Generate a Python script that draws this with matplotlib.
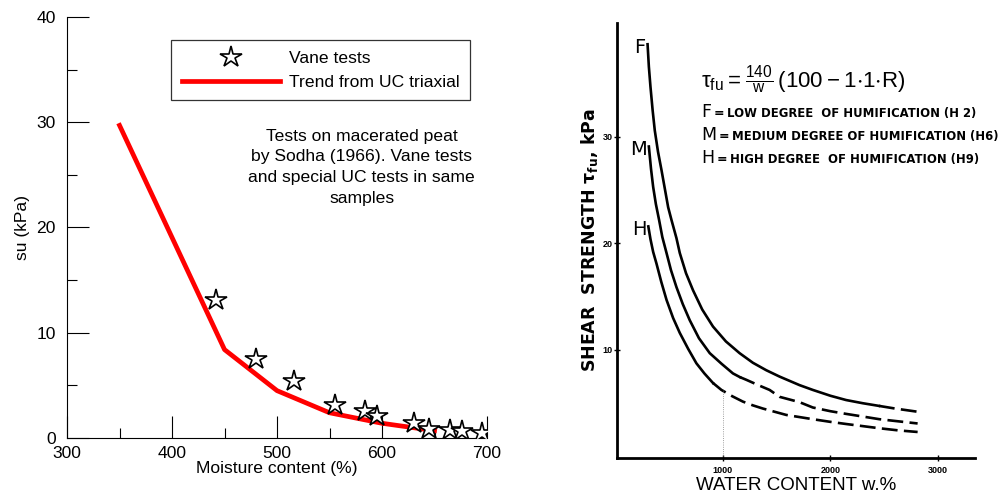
import matplotlib
matplotlib.use('Agg')
import matplotlib.pyplot as plt
from matplotlib.ticker import MultipleLocator

plt.rcParams['font.family'] = ['Liberation Sans', 'DejaVu Sans']

# left panel: Sodha (1966) macerated peat
trend_w = [350, 450, 500, 550, 600, 650]
trend_su = [29.7, 8.4, 4.5, 2.4, 1.4, 0.7]
vane_w = [442, 480, 516, 555, 584, 595, 630, 645, 665, 676, 695]
vane_su = [13.1, 7.5, 5.4, 3.1, 2.6, 2.1, 1.45, 0.9, 0.75, 0.65, 0.5]

# right panel: scanned curves F / M / H (solid part, dashed extension)
f_w = [303, 315, 330, 350, 370, 400, 432, 494, 525, 571, 602, 660, 725, 810, 910, 1030, 1157, 1280, 1404, 1528, 1713, 1836, 2000, 2145, 2300, 2450]
f_tau = [38.7, 36.6, 34.7, 32.5, 30.6, 28.6, 26.9, 23.4, 22.2, 20.5, 19.1, 17.2, 15.6, 13.8, 12.2, 10.8, 9.7, 8.8, 8.1, 7.5, 6.7, 6.25, 5.7, 5.3, 5.0, 4.75]
f_w_d = [2450, 2600, 2809]
f_tau_d = [4.75, 4.5, 4.2]
m_w = [315, 335, 355, 380, 410, 440, 479, 520, 571, 630, 694, 780, 880, 990, 1095, 1160]
m_tau = [29.1, 27.0, 25.3, 23.7, 22.2, 20.6, 19.1, 17.5, 15.9, 14.3, 12.8, 11.1, 9.7, 8.7, 7.8, 7.45]
m_w_d = [1160, 1219, 1330, 1435, 1528, 1713, 1836, 2000, 2145, 2300, 2454, 2630, 2809]
m_tau_d = [7.45, 7.2, 6.7, 6.25, 5.6, 5.1, 4.6, 4.25, 4.0, 3.75, 3.5, 3.3, 3.1]
h_w = [310, 330, 355, 386, 430, 479, 540, 602, 680, 756, 830, 910]
h_tau = [21.6, 20.4, 19.2, 18.1, 16.4, 14.7, 13.0, 11.6, 10.1, 8.75, 7.8, 6.9]
h_w_d = [910, 988, 1090, 1188, 1280, 1373, 1590, 1713, 1836, 2000, 2145, 2300, 2454, 2630, 2809]
h_tau_d = [6.9, 6.25, 5.65, 5.15, 4.8, 4.5, 3.9, 3.7, 3.5, 3.25, 3.05, 2.85, 2.65, 2.45, 2.3]
curve_labels = ['F', 'M', 'H']
legend_lines = ['LOW DEGREE  OF HUMIFICATION (H 2)',
                'MEDIUM DEGREE OF HUMIFICATION (H6)',
                'HIGH DEGREE  OF HUMIFICATION (H9)']

fig = plt.figure(figsize=(10.05, 4.99), dpi=100)
fs = 12.6

#--- left panel
ax = fig.add_axes([0.0667, 0.1222, 0.4179, 0.8438])
ax.plot(vane_w, vane_su, ls='none', marker='*', ms=16, mfc='white', mec='k', mew=1.2,
        label='Vane tests', zorder=3)
ax.plot(trend_w, trend_su, color='red', lw=3.4, label='Trend from UC triaxial', zorder=2)
ax.set_xlim(300, 700)
ax.set_ylim(0, 40)
ax.xaxis.set_major_locator(MultipleLocator(100))
ax.xaxis.set_minor_locator(MultipleLocator(50))
ax.yaxis.set_major_locator(MultipleLocator(10))
ax.yaxis.set_minor_locator(MultipleLocator(5))
ax.tick_params(which='major', direction='in', length=15.5, width=0.8, labelsize=fs, pad=6)
ax.tick_params(which='minor', direction='in', length=7.5, width=0.8)
ax.tick_params(axis='y', pad=8)
for s in ('top', 'right'):
    ax.spines[s].set_visible(False)
ax.set_xlabel('Moisture content (%)', fontsize=fs, labelpad=0)
ax.set_ylabel('su (kPa)', fontsize=fs, labelpad=5)
leg = ax.legend(loc='upper left', bbox_to_anchor=(0.248, 0.945), fancybox=False,
                edgecolor='k', fontsize=fs, handlelength=5.6, handletextpad=0.55,
                borderpad=0.6, labelspacing=0.5, borderaxespad=0)
leg.get_frame().set_linewidth(0.9)
ax.text(0.702, 0.735, 'Tests on macerated peat\nby Sodha (1966). Vane tests\nand special UC tests in same\nsamples',
        transform=ax.transAxes, ha='center', va='top', fontsize=fs, linespacing=1.48)

#--- right panel
ax2 = fig.add_axes([0.614, 0.082, 0.356, 0.872])
ax2.plot(f_w, f_tau, color='k', lw=1.9)
ax2.plot(m_w, m_tau, color='k', lw=1.9)
ax2.plot(h_w, h_tau, color='k', lw=1.9)
for w_, t_ in [(f_w_d, f_tau_d), (m_w_d, m_tau_d), (h_w_d, h_tau_d)]:
    ax2.plot(w_, t_, color='k', lw=1.9, ls=(0, (6, 2.4)))
ax2.plot([1000, 1000], [0, 6.3], color='0.5', lw=0.6, ls=':')
ax2.set_xlim(20, 3340)
ax2.set_ylim(-0.15, 40.7)
ax2.set_xticks([1000, 2000, 3000])
ax2.set_yticks([10, 20, 30])
ax2.tick_params(direction='inout', length=4, width=1, labelsize=6.5)
for lab in ax2.get_xticklabels() + ax2.get_yticklabels():
    lab.set_fontweight('bold')
ax2.tick_params(axis='x', pad=4)
ax2.tick_params(axis='y', pad=1)
for s in ('top', 'right'):
    ax2.spines[s].set_visible(False)
for s in ('left', 'bottom'):
    ax2.spines[s].set_linewidth(2)
ax2.set_xlabel('WATER CONTENT w.%', fontsize=13.5, labelpad=1)
ax2.set_ylabel(r'SHEAR  STRENGTH $\mathregular{\tau_{fu}}$, kPa', fontsize=12.5, fontweight='bold',
               family='DejaVu Sans', labelpad=2)
for lab, w_, t_ in zip(curve_labels, [f_w, m_w, h_w], [f_tau, m_tau, h_tau]):
    ax2.text(w_[0] - 20, t_[0] - 0.3, lab, ha='right', va='center', fontsize=14, family='DejaVu Sans')
ax2.text(800, 35.4, r'$\mathregular{\tau_{fu}=\frac{140}{w}\,(100 - 1{\cdot}1{\cdot}R)}$', fontsize=16,
         ha='left', va='center')
for i, (lab, line) in enumerate(zip(curve_labels, legend_lines)):
    y = 32.3 - 2.15 * i
    t_lab = ax2.text(800, y, lab, fontsize=12.5, ha='left', va='center', family='DejaVu Sans')
    t_eq = ax2.annotate('=', xy=(1, 0.45), xycoords=t_lab, xytext=(1.5, 0), textcoords='offset points',
                        fontsize=9, fontweight='bold', ha='left', va='center', family='DejaVu Sans')
    ax2.annotate(line, xy=(1, 0.5), xycoords=t_eq, xytext=(2.2, 0), textcoords='offset points',
                 fontsize=8.4, fontweight='bold', ha='left', va='center', family='DejaVu Sans')

fig.savefig('out.png', dpi=100)
